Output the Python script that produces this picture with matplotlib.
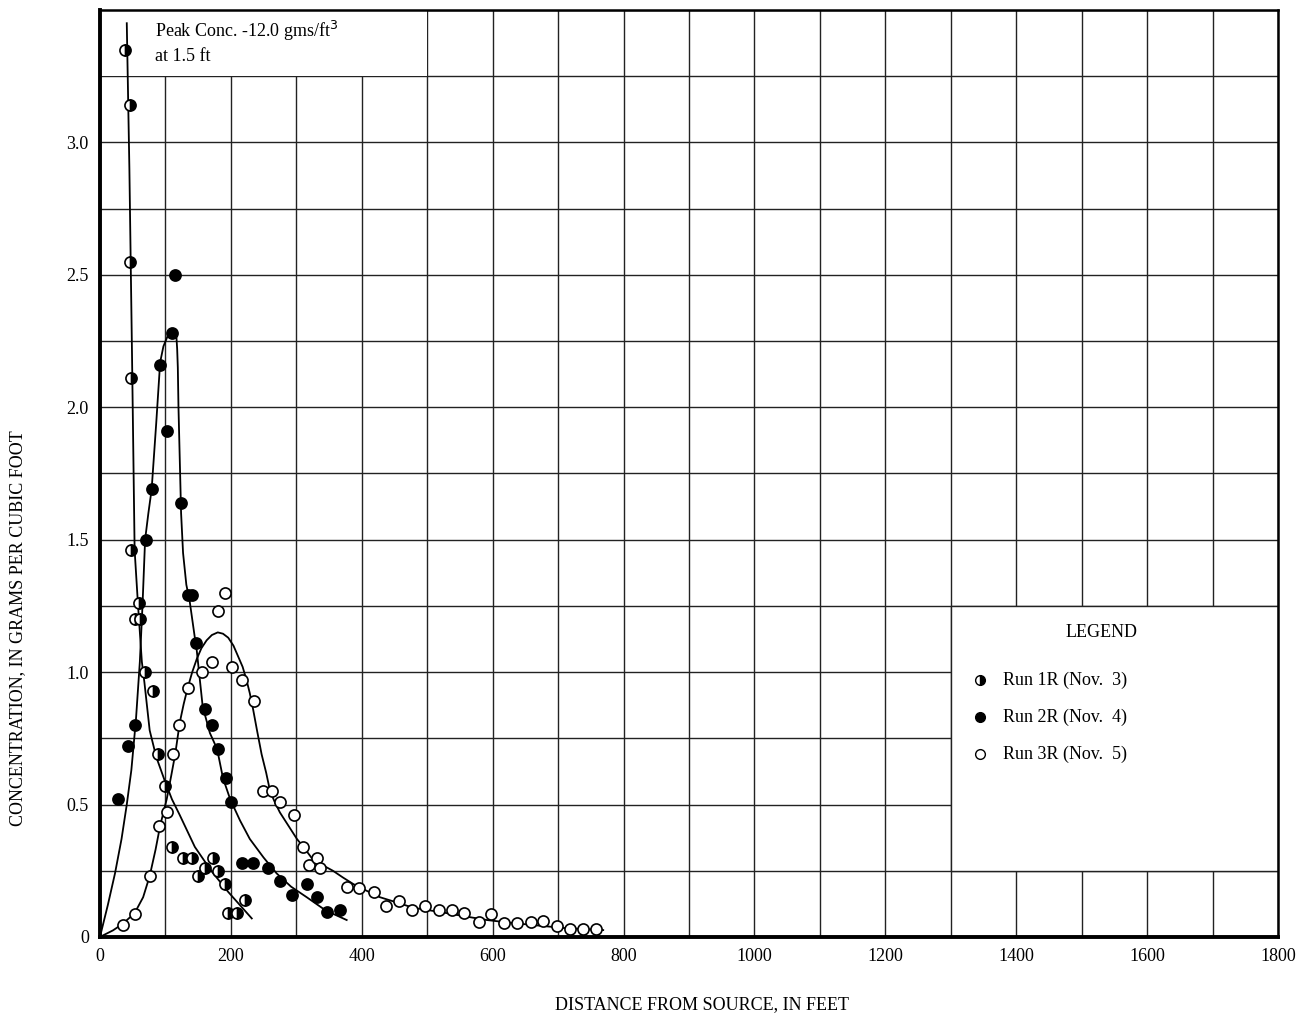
import numpy as np
import matplotlib.pyplot as plt
from matplotlib.patches import Rectangle

plt.rcParams['font.family'] = ['Liberation Serif', 'DejaVu Serif']

# --- punkty pomiarowe ---
run1_x = [38, 46, 46, 47, 47, 60, 53, 61, 69, 81, 89, 99, 110, 127, 141,
          150, 160, 173, 180, 191, 196, 209, 222]
run1_y = [3.35, 3.14, 2.55, 2.11, 1.46, 1.26, 1.20, 1.20, 1.00, 0.93, 0.69,
          0.57, 0.34, 0.30, 0.30, 0.23, 0.26, 0.30, 0.25, 0.20, 0.09, 0.09, 0.14]

run2_x = [27, 43, 53, 70, 80, 92, 102, 110, 115, 124, 135, 140, 147, 160,
          171, 180, 193, 201, 217, 234, 257, 275, 293, 316, 331, 347, 367]
run2_y = [0.52, 0.72, 0.80, 1.50, 1.69, 2.16, 1.91, 2.28, 2.50, 1.64, 1.29,
          1.29, 1.11, 0.86, 0.80, 0.71, 0.60, 0.51, 0.28, 0.28, 0.26, 0.21,
          0.16, 0.20, 0.15, 0.095, 0.10]

run3_x = [35, 53, 76, 90, 102, 112, 121, 134, 156, 171, 180, 191, 202, 217,
          235, 249, 263, 275, 296, 310, 320, 331, 337, 377, 396, 419, 437,
          457, 477, 497, 518, 538, 556, 579, 598, 617, 637, 658, 677, 698,
          718, 738, 758]
run3_y = [0.045, 0.087, 0.23, 0.42, 0.47, 0.69, 0.80, 0.94, 1.00, 1.04, 1.23,
          1.30, 1.02, 0.97, 0.89, 0.55, 0.55, 0.51, 0.46, 0.34, 0.27, 0.30,
          0.26, 0.19, 0.185, 0.17, 0.117, 0.135, 0.10, 0.117, 0.10, 0.10,
          0.09, 0.057, 0.087, 0.053, 0.053, 0.057, 0.06, 0.04, 0.03, 0.03, 0.03]

# --- krzywe wyrównujące ---
curve1_x = [41, 45, 49, 53, 58, 61, 64, 68, 72, 76, 86, 99, 110, 122, 145,
            170, 196, 232]
curve1_y = [3.45, 2.9, 2.2, 1.46, 1.26, 1.15, 1.04, 0.96, 0.87, 0.78, 0.68,
            0.59, 0.52, 0.46, 0.34, 0.25, 0.17, 0.07]

curve2_x = [0, 12, 23, 33, 41, 48, 55, 61, 65, 69, 74, 79, 86, 92, 97, 102,
            106, 110, 114, 117, 118, 119, 120, 122, 124, 127, 132, 137, 145,
            148, 157, 168, 179, 188, 199, 214, 229, 250, 270, 292, 316, 345,
            377]
curve2_y = [0, 0.12, 0.24, 0.37, 0.5, 0.63, 0.82, 1.04, 1.25, 1.5, 1.6, 1.69,
            1.94, 2.17, 2.23, 2.26, 2.285, 2.29, 2.285, 2.26, 2.22, 2.15, 2.0,
            1.8, 1.6, 1.45, 1.33, 1.27, 1.13, 1.08, 0.87, 0.77, 0.71, 0.60,
            0.52, 0.44, 0.37, 0.30, 0.24, 0.19, 0.15, 0.10, 0.064]

curve3_x = [0, 20, 35, 53, 66, 76, 85, 92, 102, 109, 115, 122, 128, 134, 141,
            148, 155, 163, 171, 180, 188, 196, 204, 211, 218, 224, 229, 234,
            240, 247, 254, 260, 267, 275, 288, 301, 314, 326, 341, 356, 371,
            387, 407, 428, 454, 479, 505, 530, 560, 591, 626, 662, 708, 769]
curve3_y = [0, 0.025, 0.05, 0.09, 0.15, 0.23, 0.33, 0.42, 0.52, 0.61, 0.69,
            0.81, 0.88, 0.94, 1.0, 1.05, 1.09, 1.12, 1.14, 1.15, 1.145, 1.13,
            1.10, 1.06, 1.02, 0.97, 0.92, 0.86, 0.78, 0.69, 0.62, 0.55, 0.51,
            0.47, 0.42, 0.37, 0.33, 0.29, 0.27, 0.25, 0.225, 0.20, 0.175,
            0.15, 0.13, 0.11, 0.10, 0.09, 0.077, 0.064, 0.054, 0.045, 0.034,
            0.026]

x_ticks = [0, 200, 400, 600, 800, 1000, 1200, 1400, 1600, 1800]
y_ticks = [0, 0.5, 1.0, 1.5, 2.0, 2.5, 3.0]
y_tick_labels = ['0', '0.5', '1.0', '1.5', '2.0', '2.5', '3.0']

fig = plt.figure(figsize=(13.03, 10.18), dpi=100)
ax = fig.add_axes([0.0767, 0.0796, 0.9041, 0.9106])

ax.set_xlim(0, 1800)
ax.set_ylim(0, 3.5)
ax.set_xticks(x_ticks)
ax.set_xticks(np.arange(0, 1801, 100), minor=True)
ax.set_yticks(y_ticks)
ax.set_yticklabels(y_tick_labels)
ax.set_yticks(np.arange(0, 3.51, 0.25), minor=True)
ax.grid(True, which='both', color='#222222', linewidth=1.0)
ax.set_axisbelow(True)
ax.tick_params(which='both', length=0, labelsize=13, pad=8)

for side in ['left', 'bottom']:
    ax.spines[side].set_linewidth(2.8)
for side in ['top', 'right']:
    ax.spines[side].set_linewidth(1.8)

# ramki z tekstem
ax.add_patch(Rectangle((0, 3.25), 500, 0.25, facecolor='white',
                       edgecolor='none', zorder=1))
ax.add_patch(Rectangle((1300, 0.25), 500, 1.0, facecolor='white',
                       edgecolor='#222222', linewidth=1.0, zorder=1))

ax.plot(curve1_x, curve1_y, color='black', linewidth=1.3, zorder=2)
ax.plot(curve2_x, curve2_y, color='black', linewidth=1.3, zorder=2)
ax.plot(curve3_x, curve3_y, color='black', linewidth=1.3, zorder=2)

mk = dict(linestyle='none', markersize=8, markeredgecolor='black',
          markeredgewidth=1.2, zorder=3)
ax.plot(run1_x, run1_y, marker='o', fillstyle='right', color='black',
        markerfacecoloralt='white', **mk)
ax.plot(run2_x, run2_y, marker='o', markerfacecolor='black', **mk)
ax.plot(run3_x, run3_y, marker='o', markerfacecolor='white', **mk)

ax.text(84, 3.42, 'Peak Conc. -12.0 gms/ft$^3$', fontsize=13, va='center', zorder=4)
ax.text(84, 3.325, 'at 1.5 ft', fontsize=13, va='center', zorder=4)

# legenda
ax.text(1530, 1.15, 'LEGEND', fontsize=13, ha='center', va='center', zorder=4)
leg_labels = ['Run 1R (Nov.  3)', 'Run 2R (Nov.  4)', 'Run 3R (Nov.  5)']
leg_y = [0.97, 0.83, 0.69]
ax.plot([1344], [leg_y[0]], marker='o', fillstyle='right', color='black',
        markerfacecoloralt='white', linestyle='none', markersize=7,
        markeredgecolor='black', zorder=4)
ax.plot([1344], [leg_y[1]], marker='o', color='black', linestyle='none',
        markersize=7, zorder=4)
ax.plot([1344], [leg_y[2]], marker='o', markerfacecolor='white',
        markeredgecolor='black', linestyle='none', markersize=7, zorder=4)
for lab, yy in zip(leg_labels, leg_y):
    ax.text(1380, yy, lab, fontsize=13, va='center', zorder=4)

fig.text(702 / 1303, 1 - 1005 / 1018, 'DISTANCE FROM SOURCE, IN FEET',
         fontsize=13, ha='center', va='center')
fig.text(18 / 1303, 1 - 628 / 1018, 'CONCENTRATION, IN GRAMS PER CUBIC FOOT',
         fontsize=13, ha='center', va='center', rotation=90)

plt.savefig('out.png', dpi=100)
